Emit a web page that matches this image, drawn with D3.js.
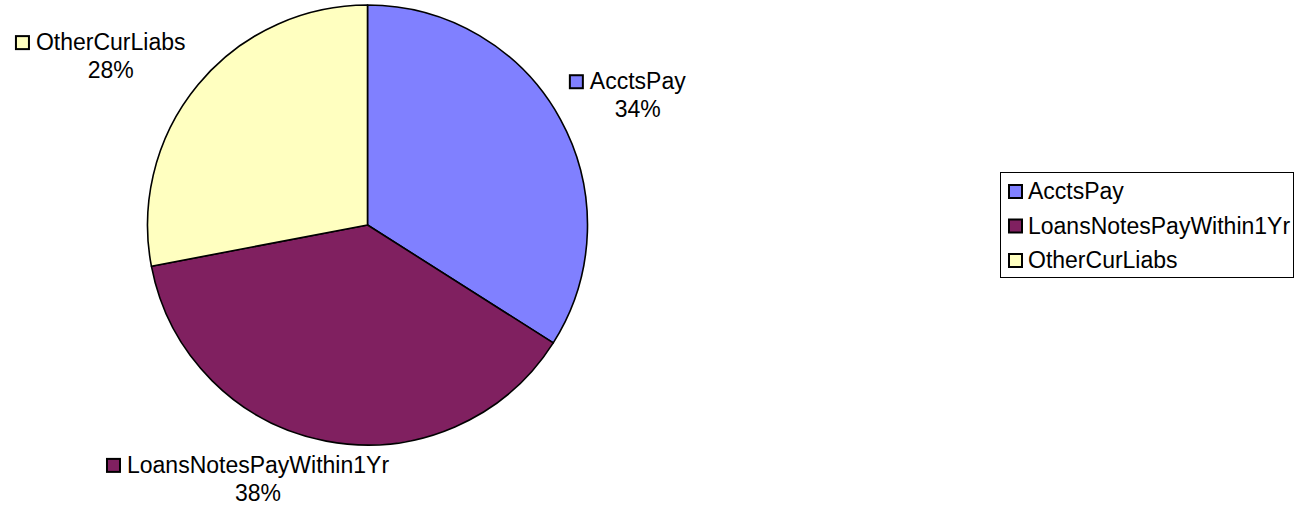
<!DOCTYPE html>
<html>
<head>
<meta charset="utf-8">
<script src="https://cdn.jsdelivr.net/npm/d3@7"></script>
<style>
  html, body { margin: 0; padding: 0; background: #fff; }
  svg { display: block; }
  text { font-family: "Liberation Sans", Arial, sans-serif; fill: #000; }
</style>
</head>
<body>
<svg id="chart" width="1294" height="510"></svg>
<script>
// ---- data ----
const categories = ["AcctsPay", "LoansNotesPayWithin1Yr", "OtherCurLiabs"];
const values = [34, 38, 28];
const colors = ["#8080FF", "#802060", "#FFFFC0"];

// ---- layout ----
const W = 1294, H = 510;
const cx = 367.5, cy = 225, R = 220;
const fontSize = 23;
// label offsets (text centre x / first baseline) relative to an anchor just outside each slice
const labelOffsets = [
  { dx: 67, dy: -24 },
  { dx: -66, dy: 20 },
  { dx: -78, dy: -27 }
];

const svg = d3.select("#chart");
const total = d3.sum(values);
const data = categories.map((c, i) => ({ name: c, value: values[i], color: colors[i] }));

const pie = d3.pie().sort(null).value(d => d.value).startAngle(0).endAngle(2 * Math.PI);
const arcs = pie(data);
const arc = d3.arc().innerRadius(0).outerRadius(R);
const labelArc = d3.arc().innerRadius(R + 12).outerRadius(R + 12);

const g = svg.append("g").attr("transform", `translate(${cx},${cy})`);
g.selectAll("path.slice")
  .data(arcs)
  .enter().append("path")
  .attr("class", "slice")
  .attr("d", arc)
  .attr("fill", d => d.data.color)
  .attr("stroke", "#000")
  .attr("stroke-width", 1.6)
  .attr("stroke-linejoin", "round");

// data labels
const sq = 13;
arcs.forEach((d, i) => {
  const [ax, ay] = labelArc.centroid(d);
  const tx = cx + ax + labelOffsets[i].dx;
  const ty = cy + ay + labelOffsets[i].dy;
  const lg = svg.append("g");
  const t1 = lg.append("text")
    .attr("x", tx).attr("y", ty)
    .attr("text-anchor", "middle")
    .attr("font-size", fontSize)
    .text(d.data.name);
  const w = t1.node().getComputedTextLength();
  lg.append("rect")
    .attr("x", tx - w / 2 - sq - 7)
    .attr("y", ty - sq - 1)
    .attr("width", sq).attr("height", sq)
    .attr("fill", d.data.color)
    .attr("stroke", "#000").attr("stroke-width", 2);
  lg.append("text")
    .attr("x", tx).attr("y", ty + 28)
    .attr("text-anchor", "middle")
    .attr("font-size", fontSize)
    .text(Math.round(d.data.value / total * 100) + "%");
});

// legend
const lx = 1000, ly = 172, lw = 293, lh = 105;
const legend = svg.append("g");
legend.append("rect")
  .attr("x", lx + 0.5).attr("y", ly + 0.5)
  .attr("width", lw).attr("height", lh)
  .attr("fill", "#fff").attr("stroke", "#000").attr("stroke-width", 1);
const rowY = d3.scalePoint().domain(categories).range([ly + 27, ly + 96]);
categories.forEach((c, i) => {
  const by = rowY(c);
  legend.append("rect")
    .attr("x", lx + 9).attr("y", by - sq - 1)
    .attr("width", sq).attr("height", sq)
    .attr("fill", colors[i]).attr("stroke", "#000").attr("stroke-width", 2);
  legend.append("text")
    .attr("x", lx + 28).attr("y", by)
    .attr("font-size", fontSize)
    .text(c);
});
</script>
</body>
</html>
